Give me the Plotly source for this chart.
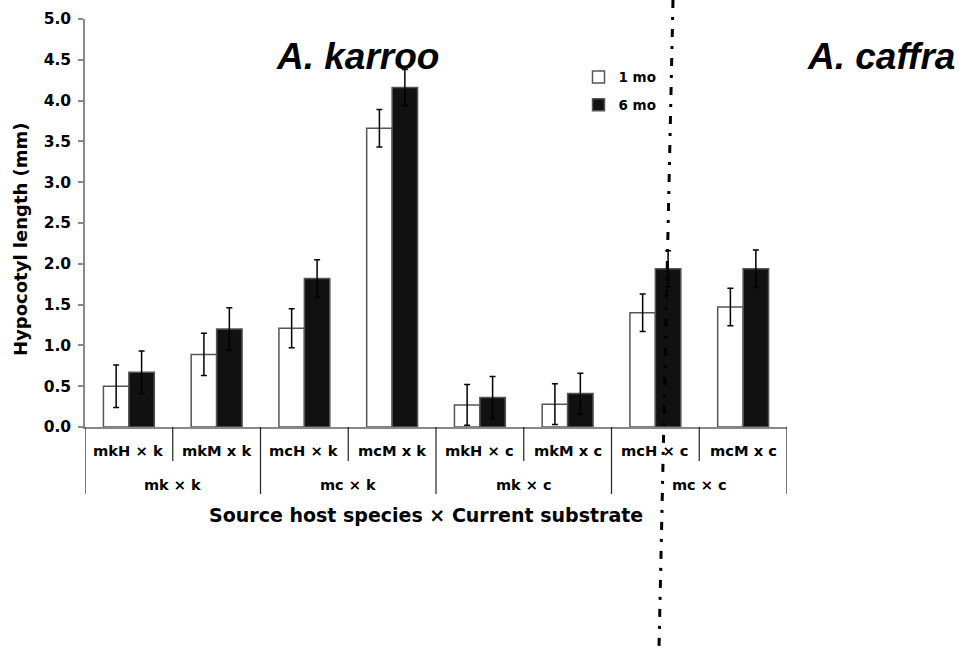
import plotly.graph_objects as go

# ---- data ----
categories = ["mkH × k", "mkM x k", "mcH × k", "mcM x k",
              "mkH × c", "mkM x c", "mcH × c", "mcM x c"]
groups = ["mk × k", "mc × k", "mk × c", "mc × c"]
means_1mo = [0.50, 0.89, 1.21, 3.66, 0.27, 0.28, 1.40, 1.47]
err_1mo = [0.26, 0.26, 0.24, 0.23, 0.25, 0.25, 0.23, 0.23]
means_6mo = [0.67, 1.20, 1.82, 4.16, 0.36, 0.41, 1.94, 1.94]
err_6mo = [0.26, 0.26, 0.23, 0.22, 0.26, 0.25, 0.22, 0.23]
yticks = [0.0, 0.5, 1.0, 1.5, 2.0, 2.5, 3.0, 3.5, 4.0, 4.5, 5.0]
series_names = ["1 mo", "6 mo"]
species_titles = ["A. karroo", "A. caffra"]
y_title = "Hypocotyl length (mm)"
x_title = "Source host species × Current substrate"

HEAVY = "DejaVu Sans"
ARIAL = "Liberation Sans"

xpos = list(range(len(categories)))

fig = go.Figure()
fig.add_trace(go.Bar(
    x=xpos, y=means_1mo, name=series_names[0], legendgroup="a",
    marker=dict(color="white", line=dict(color="#555555", width=1.5)),
    error_y=dict(type="data", array=err_1mo, color="black", thickness=1.5, width=3),
))
fig.add_trace(go.Bar(
    x=xpos, y=means_6mo, name=series_names[1], legendgroup="b",
    marker=dict(color="#111111", line=dict(color="#555555", width=1.5)),
    error_y=dict(type="data", array=err_6mo, color="black", thickness=1.5, width=3),
))

fig.update_layout(
    width=960, height=648,
    margin=dict(l=85, r=173, t=19, b=221, autoexpand=False),
    paper_bgcolor="white", plot_bgcolor="white",
    barmode="group", bargap=0.42, bargroupgap=0,
    showlegend=True,
    legend=dict(x=0.703, y=0.895, xanchor="left", yanchor="top",
                font=dict(family=HEAVY, size=13.5, color="black", weight="bold"),
                bgcolor="rgba(0,0,0,0)", tracegroupgap=7,
                traceorder="grouped", itemwidth=30),
    font=dict(family=HEAVY, color="black"),
)

fig.update_xaxes(
    range=[-0.5, len(categories) - 0.5],
    showticklabels=False, ticks="", showgrid=False, zeroline=False,
    showline=True, linecolor="#888888", linewidth=1.5,
)
fig.update_yaxes(
    range=[0, 5.0], tickvals=yticks, ticktext=[f"{v:.1f}" for v in yticks],
    ticks="outside", ticklen=5, tickcolor="#888888", tickwidth=1.5,
    showgrid=False, zeroline=False,
    showline=True, linecolor="#888888", linewidth=1.5,
    tickfont=dict(family=HEAVY, size=15.5, color="black", weight="bold"),
    ticklabelstandoff=4,
)

plot_h = 648 - 19 - 221
plot_w = 960 - 85 - 173
def py(px_below_axis):
    return -px_below_axis / plot_h

# y-axis title
fig.add_annotation(x=-65 / plot_w, y=188 / plot_h, xref="paper", yref="paper",
                   text=f"<b>{y_title}</b>", textangle=-90, showarrow=False,
                   xanchor="center", yanchor="middle",
                   font=dict(family=HEAVY, size=18, color="black"))

# category labels and dividers
n = len(categories)
per_group = n // len(groups)
for i, c in enumerate(categories):
    fig.add_annotation(x=i, y=py(23), xref="x", yref="paper", text=f"<b>{c}</b>",
                       showarrow=False, xanchor="center", yanchor="middle",
                       font=dict(family=HEAVY, size=14.7, color="black"))
for gi, g in enumerate(groups):
    center = gi * per_group + (per_group - 1) / 2
    fig.add_annotation(x=center, y=py(58), xref="x", yref="paper", text=f"<b>{g}</b>",
                       showarrow=False, xanchor="center", yanchor="middle",
                       font=dict(family=HEAVY, size=14.5, color="black"))
for b in range(n + 1):
    is_group = (b % per_group == 0)
    fig.add_shape(type="line", xref="x", yref="paper",
                  x0=b - 0.5, x1=b - 0.5, y0=0, y1=py(67 if is_group else 34),
                  line=dict(color="#222222", width=1.2))

fig.add_annotation(x=0.486, y=py(88), xref="paper", yref="paper",
                   text=f"<b>{x_title}</b>",
                   showarrow=False, xanchor="center", yanchor="middle",
                   font=dict(family=HEAVY, size=19, color="black"))

# species titles
fig.add_annotation(x=0.3875, y=0.907, xref="paper", yref="paper",
                   text=f"<b><i>{species_titles[0]}</i></b>", showarrow=False,
                   xanchor="center", yanchor="middle",
                   font=dict(family=ARIAL, size=37, color="black"))
fig.add_annotation(x=1.0256, y=0.907, xref="paper", yref="paper",
                   text=f"<b><i>{species_titles[1]}</i></b>", showarrow=False,
                   xanchor="left", yanchor="middle",
                   font=dict(family=ARIAL, size=37, color="black"))

# dash-dot separator
fig.add_shape(type="line", xref="paper", yref="paper",
              x0=(673 - 85) / plot_w, x1=(659 - 85) / plot_w,
              y0=427 / plot_h, y1=(427 - 648) / plot_h,
              line=dict(color="black", width=3, dash="8px,9px,3px,9px"),
              layer="above")

fig.write_html("out.html")
